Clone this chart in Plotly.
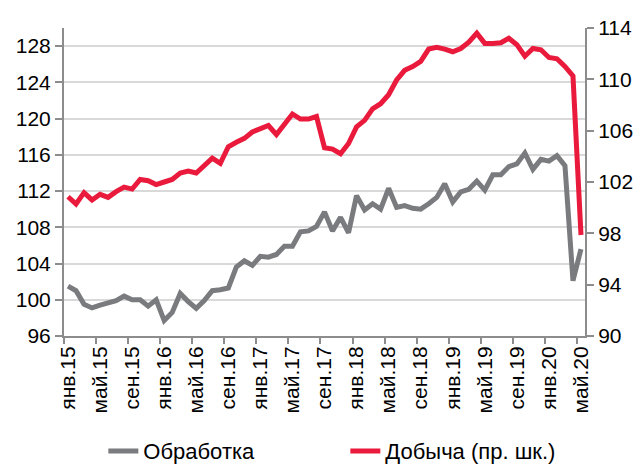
import plotly.graph_objects as go

# monthly index values, Jan 2015 .. May 2020
processing = [101.5, 101.0, 99.5, 99.1, 99.4, 99.6, 99.9, 100.4, 100.0, 100.0,
              99.3, 100.0, 97.7, 98.6, 100.7, 99.8, 99.05, 99.9, 101.0, 101.1,
              101.3, 103.6, 104.3, 103.8, 104.8, 104.7, 105.0, 105.9, 105.9, 107.5,
              107.6, 108.1, 109.7, 107.6, 109.1, 107.4, 111.5, 109.9, 110.6, 110.0,
              112.3, 110.2, 110.4, 110.1, 110.0, 110.6, 111.3, 112.8, 110.8, 111.9,
              112.2, 113.1, 112.1, 113.8, 113.8, 114.7, 115.0, 116.2, 114.4, 115.5,
              115.3, 115.9, 114.8, 102.1, 105.6]
mining = [100.85, 100.29, 101.17, 100.6, 101.04, 100.8, 101.25, 101.6, 101.45, 102.2,
          102.1, 101.8, 102.0, 102.2, 102.7, 102.86, 102.7, 103.3, 103.85, 103.45,
          104.75, 105.1, 105.4, 105.9, 106.2, 106.4, 105.7, 106.45, 107.3, 106.9,
          106.9, 107.1, 104.67, 104.57, 104.2, 105.0, 106.3, 106.8, 107.7, 108.1,
          108.8, 109.95, 110.7, 111.0, 111.4, 112.36, 112.5, 112.36, 112.15, 112.4,
          112.9, 113.6, 112.8, 112.8, 112.85, 113.2, 112.7, 111.8, 112.4, 112.3,
          111.7, 111.6, 111.0, 110.26, 97.87]
tick_labels = ["янв.15", "май.15", "сен.15", "янв.16", "май.16", "сен.16",
               "янв.17", "май.17", "сен.17", "янв.18", "май.18", "сен.18",
               "янв.19", "май.19", "сен.19", "янв.20", "май.20"]

months = list(range(len(processing)))
tick_pos = months[::4]

GREY = "#7a7b7e"
RED = "#ea1a3c"
AXIS = "#8c8c8c"
FONT = "Liberation Sans, Arial, sans-serif"

fig = go.Figure()
fig.add_trace(go.Scatter(x=months, y=processing, name="Обработка", mode="lines",
                         line=dict(color=GREY, width=5)))
fig.add_trace(go.Scatter(x=months, y=mining, name="Добыча (пр. шк.)", mode="lines",
                         line=dict(color=RED, width=5), yaxis="y2"))

fig.update_layout(
    width=640, height=466,
    margin=dict(l=64, r=55, t=28, b=130),
    plot_bgcolor="white",
    paper_bgcolor="white",
    font=dict(family=FONT, size=21, color="black"),
    showlegend=True,
    legend=dict(orientation="h", x=0.54, xanchor="center",
                yref="container", y=0.032, yanchor="middle",
                font=dict(size=22), entrywidth=197, entrywidthmode="pixels",
                tracegroupgap=0),
    xaxis=dict(range=[-0.5, len(months) - 0.5], tickmode="array", tickvals=tick_pos,
               ticktext=tick_labels, tickangle=-90, ticks="", showgrid=False,
               showline=True, linecolor=AXIS, linewidth=2, zeroline=False,
               tickfont=dict(size=21), automargin=False,
               minor=dict(tickmode="linear", tick0=-0.5, dtick=4, ticks="outside",
                          ticklen=6, tickwidth=2, tickcolor=AXIS, showgrid=False)),
    yaxis=dict(range=[96, 130], tickmode="array", tickvals=list(range(96, 129, 4)),
               ticks="outside", ticklen=7, tickwidth=2, tickcolor=AXIS,
               showline=True, linecolor=AXIS, linewidth=2, automargin=False,
               showgrid=True, gridcolor="#d9d9d9", gridwidth=2, zeroline=False),
    yaxis2=dict(range=[90, 114], tickmode="array", tickvals=list(range(90, 115, 4)),
                overlaying="y", side="right", ticks="outside", ticklen=7, tickwidth=2,
                tickcolor=AXIS, showline=True, linecolor=AXIS, linewidth=2,
                automargin=False, showgrid=False, zeroline=False),
)

# the page body has a default 8px margin; drop it so the figure fills the window
fig.write_html("out.html", config={"displayModeBar": False},
               post_script="document.body.style.margin = '0px';")
